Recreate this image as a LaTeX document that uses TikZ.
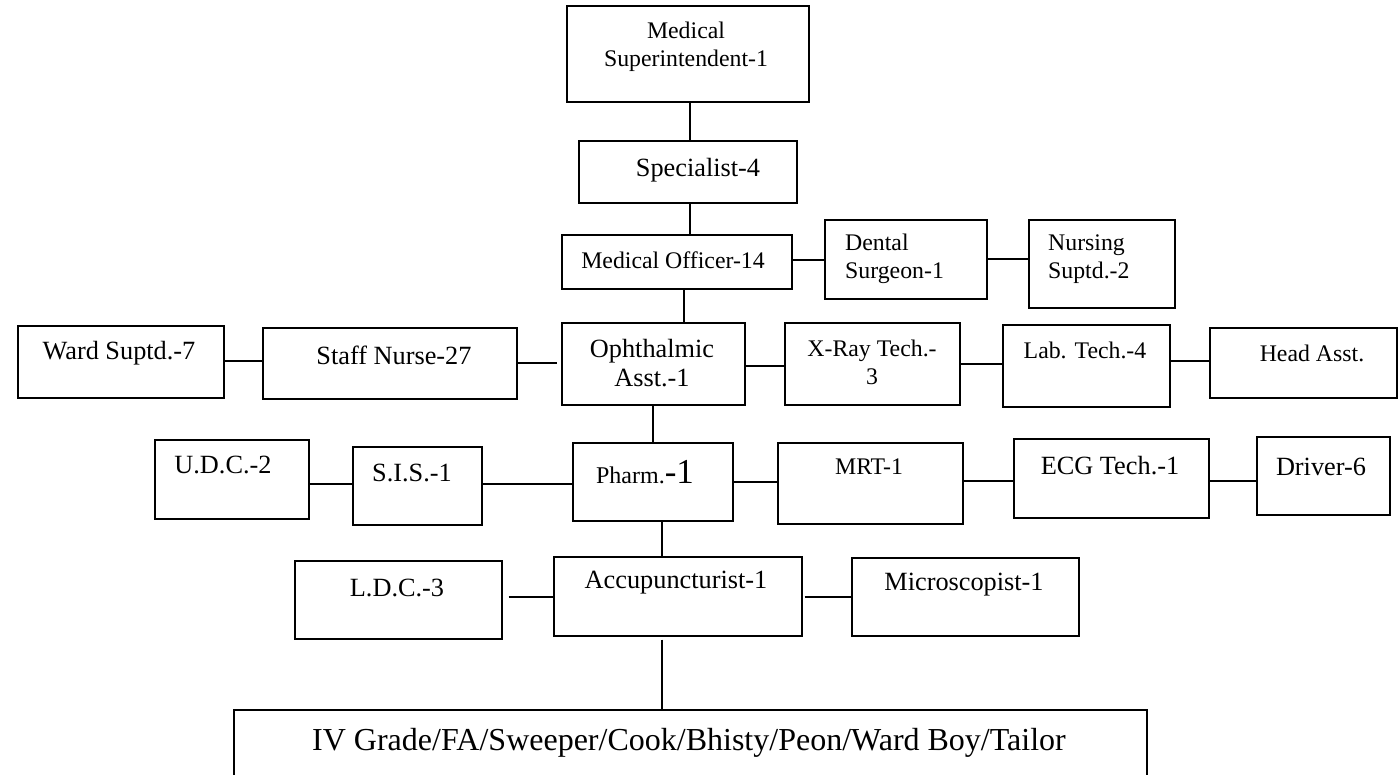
\documentclass[tikz,border=0pt]{standalone}
\usepackage{fontspec}
\setmainfont{Liberation Serif}
% \orgbox{name}{left}{top}{right}{bottom}: an empty framed box given by its corners
\newcommand\orgbox[5]{\node[box, minimum width={#4-#2}, minimum height={#5-#3}] (#1) at (#2,#3) {};}
\begin{document}
\begin{tikzpicture}[x=1pt,y=-1pt,
  box/.style={draw, line width=1.5pt, rectangle, inner sep=0pt, anchor=north west},
  wire/.style={line width=1.5pt},
  lbl/.style={inner sep=0pt, align=center},
  fa/.style={font=\fontsize{26.3}{29}\selectfont},
  fb/.style={font=\fontsize{23.8}{28}\selectfont},
  fc/.style={font=\fontsize{32}{36}\selectfont}]
\useasboundingbox (0,0) rectangle (1398,774);
\clip (0,0) rectangle (1398,774);

% boxes
\orgbox{ms}{566}{5}{808}{101}
\orgbox{sp}{578}{140}{796}{202}
\orgbox{mo}{561}{234}{791}{288}
\orgbox{ds}{824}{219}{986}{298}
\orgbox{ns}{1028}{219}{1174}{307}
\orgbox{ws}{17}{325}{223}{397}
\orgbox{sn}{262}{327}{516}{398}
\orgbox{oa}{561}{322}{744}{404}
\orgbox{xr}{784}{322}{959}{404}
\orgbox{lt}{1002}{324}{1169}{406}
\orgbox{ha}{1209}{327}{1396}{397}
\orgbox{udc}{154}{439}{308}{518}
\orgbox{sis}{352}{446}{481}{524}
\orgbox{ph}{572}{442}{732}{520}
\orgbox{mrt}{777}{442}{962}{523}
\orgbox{ecg}{1013}{438}{1208}{517}
\orgbox{dr}{1256}{436}{1389}{514}
\orgbox{ldc}{294}{560}{501}{638}
\orgbox{ac}{553}{556}{801}{635}
\orgbox{mi}{851}{557}{1078}{635}
\orgbox{bot}{233}{709}{1146}{790}

% labels
\node[lbl, fb] (ms-t) at (686,47) {Medical\\Superintendent-1};
\node[lbl, fa] (sp-t) at (698,170) {Specialist-4};
\node[lbl, fb] (mo-t) at (673,260) {Medical Officer-14};
\node[lbl, fb, align=left, anchor=west] (ds-t) at (845,259) {Dental\\Surgeon-1};
\node[lbl, fb, align=left, anchor=west] (ns-t) at (1048,259) {Nursing\\Suptd.-2};
\node[lbl, fa] (ws-t) at (119,353) {Ward Suptd.-7};
\node[lbl, fa] (sn-t) at (394,355) {Staff Nurse-27};
\node[lbl, fa] (oa-t) at (652,363) {Ophthalmic\\Asst.-1};
\node[lbl, fb] (xr-t) at (872,362) {X-Ray Tech.-\\3};
\node[lbl, fb] (lt-t) at (1085,350) {Lab. Tech.-4};
\node[lbl, fb] (ha-t) at (1312,353) {Head Asst.};
\node[lbl, fa] (udc-t) at (223,465) {U.D.C.-2};
\node[lbl, fa] (sis-t) at (412,473) {S.I.S.-1};
\node[lbl] (ph-t) at (645,472) {{\fontsize{24}{28}\selectfont Pharm.}{\fontsize{35}{38}\selectfont -1}};
\node[lbl, fb] (mrt-t) at (869,467) {MRT-1};
\node[lbl, fa] (ecg-t) at (1110,466) {ECG Tech.-1};
\node[lbl, fa] (dr-t) at (1321,467) {Driver-6};
\node[lbl, fa] (ldc-t) at (397,588) {L.D.C.-3};
\node[lbl, fa] (ac-t) at (676,583) {Accupuncturist-1};
\node[lbl, fa] (mi-t) at (964,585) {Microscopist-1};
\node[lbl, fc] (bot-t) at (689,743) {IV Grade/FA/Sweeper/Cook/Bhisty/Peon/Ward Boy/Tailor};

% vertical connectors
\draw[wire] (ms.south -| 690,0) -- (sp.north -| 690,0);
\draw[wire] (sp.south -| 690,0) -- (mo.north -| 690,0);
\draw[wire] (mo.south -| 684,0) -- (oa.north -| 684,0);
\draw[wire] (oa.south -| 653,0) -- (ph.north -| 653,0);
\draw[wire] (ph.south -| 662,0) -- (ac.north -| 662,0);
\draw[wire, shorten <=3pt] (ac.south -| 662,0) -- (bot.north -| 662,0);

% horizontal connectors
\draw[wire] (mo.east |- 0,260) -- (ds.west |- 0,260);
\draw[wire] (ds.east |- 0,259) -- (ns.west |- 0,259);
\draw[wire] (ws.east |- 0,361) -- (sn.west |- 0,361);
\draw[wire, shorten >=4pt] (sn.east |- 0,363) -- (oa.west |- 0,363);
\draw[wire] (oa.east |- 0,366) -- (xr.west |- 0,366);
\draw[wire] (xr.east |- 0,364) -- (lt.west |- 0,364);
\draw[wire] (lt.east |- 0,361) -- (ha.west |- 0,361);
\draw[wire] (udc.east |- 0,484) -- (sis.west |- 0,484);
\draw[wire] (sis.east |- 0,484) -- (ph.west |- 0,484);
\draw[wire] (ph.east |- 0,482) -- (mrt.west |- 0,482);
\draw[wire] (mrt.east |- 0,481) -- (ecg.west |- 0,481);
\draw[wire] (ecg.east |- 0,481) -- (dr.west |- 0,481);
\draw[wire, shorten <=6pt] (ldc.east |- 0,597) -- (ac.west |- 0,597);
\draw[wire, shorten <=2pt] (ac.east |- 0,597) -- (mi.west |- 0,597);
\end{tikzpicture}
\end{document}
